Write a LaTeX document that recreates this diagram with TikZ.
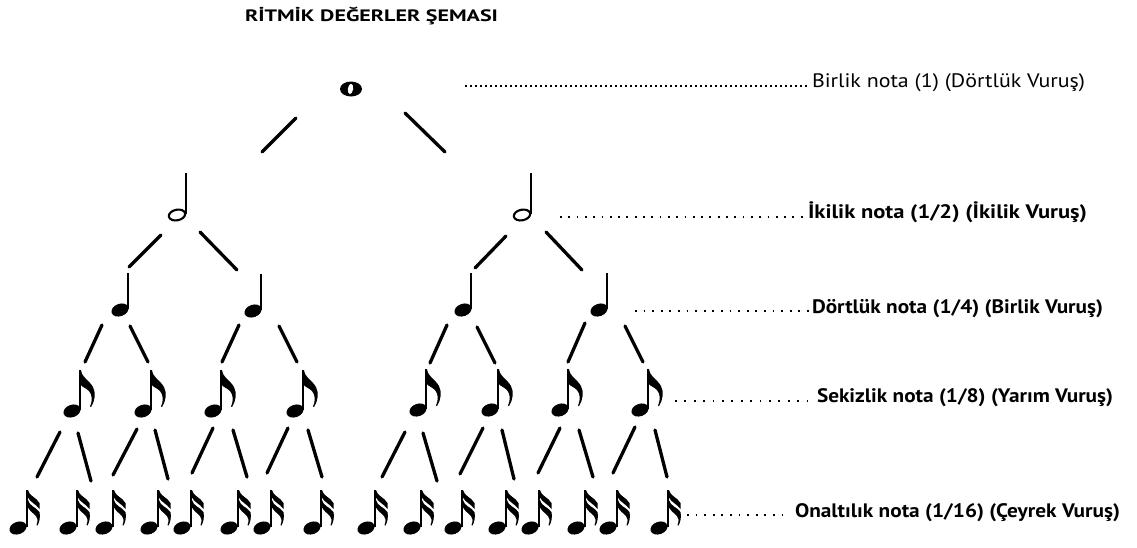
\documentclass[tikz,border=0pt]{standalone}
\usepackage{fontspec}
\usepackage{graphicx}
\setmainfont{PT Sans}
\usetikzlibrary{calc}

% stretch a label to a given width, keeping its natural height
\newcommand\fitw[2]{\resizebox{#1}{\height}{#2}}
% a short hand-drawn stroke between a parent note and a child note
\newcommand\twig[4]{\draw[branchline] ([shift={(#2)}]#1) -- ([shift={(#4)}]#3);}

\begin{document}
\begin{tikzpicture}[
  x=1pt, y=-1pt,
  stemline/.style={line width=2.1pt},
  branchline/.style={line width=3.3pt, line cap=round},
  leader/.style={line width=1.8pt, dash pattern=on 1.8pt off #1},
  labeltext/.style={anchor=base west, inner sep=0pt, outer sep=0pt,
    font=\fontsize{19.5}{22}\selectfont},
  boldlabel/.style={labeltext, font=\fontsize{19.5}{22}\selectfont\bfseries},
  notehead/.pic={\fill[rotate=20] (0,0) ellipse [x radius=8.8pt, y radius=6.2pt];},
  wholenote/.pic={
    \fill (0,0) ellipse [x radius=11pt, y radius=7.5pt];
    \fill[white, rotate=-8] (-0.5,0) ellipse [x radius=2.6pt, y radius=5.2pt];},
  halfnote/.pic={
    \draw[line width=2.1pt, rotate=12] (0,0) ellipse [x radius=8.3pt, y radius=5.3pt];
    \draw[stemline] (8.9,-1) -- (8.9,-42);},
  quarternote/.pic={
    \pic {notehead};
    \draw[stemline] (7.9,-1) -- (7.9,-37);},
  eighthnote/.pic={
    \pic {notehead};
    \draw[stemline] (8,-1) -- (8,-41);
    \fill (7,-41) -- (9,-41) .. controls (10,-33) and (17,-31) .. (21,-24)
      .. controls (24,-18) and (23,-10) .. (19,-4) -- (18,-4.5)
      .. controls (20.5,-10) and (20.5,-16) .. (17,-20)
      .. controls (14,-23) and (10,-24) .. (9,-26) -- (7,-26) -- cycle;},
  sixteenthnote/.pic={
    \pic {notehead};
    \draw[stemline] (9,-1) -- (9,-38);
    \fill (8,-38) -- (10,-38) .. controls (11,-32) and (18,-31) .. (21.5,-25)
      -- (21.5,-19) .. controls (18,-24) and (12,-26) .. (10,-30.5) -- (8,-30.5) -- cycle;
    \fill (8,-28) -- (10,-28) .. controls (11,-22) and (18,-21) .. (21.5,-16)
      .. controls (22.5,-11) and (21.5,-6) .. (19.5,-2.5) -- (18.5,-3)
      .. controls (20,-7) and (20,-10) .. (18,-12)
      .. controls (15,-15) and (12,-17) .. (10,-20.5) -- (8,-20.5) -- cycle;},
]
\fill[white] (0,0) rectangle (1137,547);
\useasboundingbox (0,0) rectangle (1137,547);

% title
\node[labeltext, font=\fontsize{16.5}{18}\selectfont\bfseries] (title) at (245,21)
  {\fitw{253pt}{RİTMİK DEĞERLER ŞEMASI}};

% note positions (head centres)
\coordinate (w) at (351,89);
\coordinate (h1) at (177,215);  \coordinate (h2) at (522,215);
\coordinate (q1) at (120,310);  \coordinate (q2) at (253,311);
\coordinate (q3) at (463,310);  \coordinate (q4) at (599,310);
\coordinate (e1) at (72,411);   \coordinate (e2) at (143,411);
\coordinate (e3) at (213,411);  \coordinate (e4) at (295,411);
\coordinate (e5) at (418,410);  \coordinate (e6) at (490,410);
\coordinate (e7) at (560,410);  \coordinate (e8) at (640,410);
\foreach \n/\xx in {1/18,2/68,3/104,4/149,5/182,6/229,7/262,8/312,
                    9/366,10/412,11/453,12/497,13/530,14/576,15/608,16/659}
  \coordinate (s\n) at (\xx,528);

% notes
\pic at (w) {wholenote};
\foreach \c in {h1,h2} \pic at (\c) {halfnote};
\foreach \c in {q1,q2,q3,q4} \pic at (\c) {quarternote};
\foreach \c in {e1,e2,e3,e4,e5,e6,e7,e8} \pic at (\c) {eighthnote};
\foreach \c in {1,...,16} \pic at (s\c) {sixteenthnote};

% branches: whole -> halves
\twig{w}{-55,29}{h1}{85,-63}
\twig{w}{54,24}{h2}{-77,-63}
% halves -> quarters
\twig{h1}{-16,20}{q1}{9,-43}
\twig{h1}{23,17}{q2}{-16,-41}
\twig{h2}{-16,21}{q3}{12,-42}
\twig{h2}{24,17}{q4}{-17,-40}
% quarters -> eighths
\twig{q1}{-18,15}{e1}{13,-49}
\twig{q1}{10,16}{e2}{5,-49}
\twig{q2}{-14,14}{e3}{9,-49}
\twig{q2}{26,15}{e4}{2,-49}
\twig{q3}{-16,15}{e5}{12,-47}
\twig{q3}{14,17}{e6}{5,-47}
\twig{q4}{-14,13}{e7}{8,-48}
\twig{q4}{26,16}{e8}{3,-48}
% eighths -> sixteenths
\twig{e1}{-12,21}{s1}{19,-51}
\twig{e1}{6,22}{s2}{23,-47}
\twig{e2}{-6,18}{s3}{9,-53}
\twig{e2}{12,19}{s4}{19,-49}
\twig{e3}{0,17}{s5}{10,-55}
\twig{e3}{20,19}{s6}{18,-51}
\twig{e4}{-7,17}{s7}{5,-55}
\twig{e4}{13,19}{s8}{10,-51}
\twig{e5}{-13,22}{s9}{16,-51}
\twig{e5}{5,23}{s10}{25,-47}
\twig{e6}{-7,18}{s11}{7,-54}
\twig{e6}{12,20}{s12}{17,-49}
\twig{e7}{0,18}{s13}{8,-55}
\twig{e7}{19,20}{s14}{17,-51}
\twig{e8}{-5,17}{s15}{5,-55}
\twig{e8}{15,20}{s16}{8,-51}

% level labels
\node[labeltext] (lab0) at (812,87) {\fitw{273pt}{Birlik nota (1) (Dörtlük Vuruş)}};
\node[boldlabel] (lab1) at (808,218) {\fitw{279pt}{İkilik nota (1/2) (İkilik Vuruş)}};
\node[boldlabel] (lab2) at (812,313) {\fitw{291pt}{Dörtlük nota (1/4) (Birlik Vuruş)}};
\node[boldlabel] (lab3) at (817,402) {\fitw{296pt}{Sekizlik nota (1/8) (Yarım Vuruş)}};
\node[boldlabel] (lab4) at (795,517) {\fitw{325pt}{Onaltılık nota (1/16) (Çeyrek Vuruş)}};

% dotted leaders from each level to its label
\coordinate (d0) at ([shift={(114,-3)}]w);
\coordinate (d1) at ([shift={(38,2)}]h2);
\coordinate (d2) at ([shift={(36,1)}]q4);
\coordinate (d3) at ([shift={(35,-9)}]e8);
\coordinate (d4) at ([shift={(28,-13)}]s16);
\draw[leader=3.2pt, line width=1.6pt] (d0) -- ($(d0 -| lab0.west)+(-5,0)$);
\draw[leader=6.5pt] (d1) -- ($(d1 -| lab1.west)+(-2,0)$);
\draw[leader=6.8pt] (d2) -- ($(d2 -| lab2.west)+(-3,0)$);
\draw[leader=7.6pt] (d3) -- ($(d3 -| lab3.west)+(-9,0)$);
\draw[leader=6.8pt] (d4) -- ($(d4 -| lab4.west)+(-12,0)$);
\end{tikzpicture}
\end{document}
